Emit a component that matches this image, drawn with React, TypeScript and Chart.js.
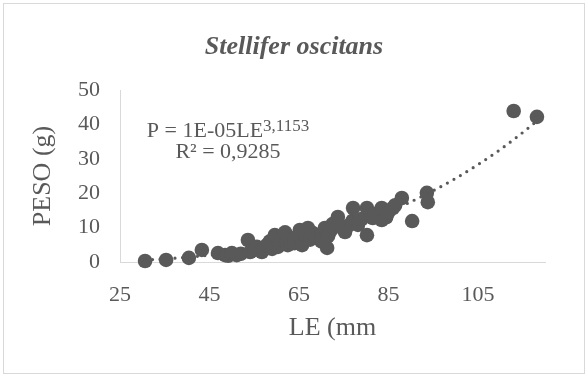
import React, { useEffect, useRef } from "react";
import { Chart, registerables } from "chart.js";

Chart.register(...registerables);

const SERIF = "'Liberation Serif', 'Times New Roman', serif";
const TEXT_COLOR = "#595959";
const MARK_COLOR = "#595959";
const AXIS_COLOR = "#d9d9d9";

const TITLE = "Stellifer oscitans";
const X_TITLE = "LE (mm";
const Y_TITLE = "PESO (g)";
const EQ_MAIN = "P = 1E-05LE";
const EQ_EXP = "3,1153";
const EQ_R2 = "R² = 0,9285";

const X_TICKS = [25, 45, 65, 85, 105];
const Y_TICKS = [0, 10, 20, 30, 40, 50];

// LE (mm) and PESO (g) of the sampled fish
const LE_MM = [
  30.6, 35.3, 40.4, 43.3, 46.9, 48.5, 49.2, 50.0, 51.1, 52.0,
  53.6, 54.1, 55.0, 55.6, 56.7, 57.0, 57.8, 58.5, 59.0, 59.6,
  60.3, 61.0, 61.9, 62.0, 62.5, 63.0, 64.0, 64.1, 65.2, 65.6,
  65.7, 66.5, 67.0, 67.5, 68.0, 69.0, 70.0, 70.0, 70.8, 71.3,
  71.5, 72.0, 72.5, 73.7, 74.5, 75.3, 76.0, 77.0, 77.1, 78.2,
  79.0, 80.2, 80.2, 81.5, 82.0, 83.5, 83.5, 84.5, 85.0, 86.0,
  86.5, 88.0, 90.3, 93.6, 93.8, 113.0, 118.2,
];
const PESO_G = [
  0.3, 0.6, 1.2, 3.5, 2.6, 2.0, 1.8, 2.6, 2.0, 2.4,
  6.4, 2.9, 3.5, 4.4, 2.9, 4.0, 4.9, 6.0, 3.8, 7.8,
  4.4, 6.5, 8.6, 5.5, 4.9, 6.0, 5.5, 7.0, 9.3, 7.0,
  4.9, 8.0, 9.9, 6.5, 8.5, 7.0, 8.0, 6.0, 9.9, 4.1,
  7.5, 9.0, 11.0, 13.1, 10.0, 8.7, 10.5, 12.0, 15.7, 10.8,
  12.5, 15.7, 7.8, 12.8, 14.0, 15.7, 12.2, 13.0, 14.5, 15.7,
  16.5, 18.6, 11.9, 20.1, 17.4, 43.9, 42.2,
];

// Power trendline
const TREND_LE = [30.6, 35, 40, 45, 50, 55, 60, 65, 70, 75, 80, 85, 90, 95, 100, 105, 110, 114, 118.2];
const TREND_PESO = [0.6, 0.9, 1.4, 2.0, 2.8, 3.8, 5.0, 6.4, 8.0, 9.9, 12.1, 14.6, 17.5, 20.7, 24.3, 28.3, 32.7, 36.6, 41.0];

const decorPlugin = {
  id: "decor",
  afterDraw(chart: any) {
    const ctx = chart.ctx as CanvasRenderingContext2D;
    ctx.save();
    // outer chart border
    ctx.strokeStyle = AXIS_COLOR;
    ctx.lineWidth = 1;
    ctx.strokeRect(3.5, 3.5, 581, 370);
    // title
    ctx.fillStyle = TEXT_COLOR;
    ctx.font = `italic bold 26px ${SERIF}`;
    ctx.textAlign = "center";
    ctx.textBaseline = "alphabetic";
    ctx.fillText(TITLE, 294, 54);
    // trendline equation
    const cx = 228;
    ctx.font = `22px ${SERIF}`;
    const w1 = ctx.measureText(EQ_MAIN).width;
    ctx.font = `17px ${SERIF}`;
    const w2 = ctx.measureText(EQ_EXP).width;
    const start = cx - (w1 + w2) / 2;
    ctx.textAlign = "left";
    ctx.font = `22px ${SERIF}`;
    ctx.fillText(EQ_MAIN, start, 137);
    ctx.font = `17px ${SERIF}`;
    ctx.fillText(EQ_EXP, start + w1, 131);
    ctx.textAlign = "center";
    ctx.font = `22px ${SERIF}`;
    ctx.fillText(EQ_R2, cx, 158);
    ctx.restore();
  },
};

export default function App() {
  const canvasRef = useRef<HTMLCanvasElement | null>(null);

  useEffect(() => {
    document.body.style.margin = "0";
    const canvas = canvasRef.current;
    if (!canvas) return;
    const points = LE_MM.map((x, i) => ({ x, y: PESO_G[i] }));
    const trend = TREND_LE.map((x, i) => ({ x, y: TREND_PESO[i] }));
    const chart = new Chart(canvas, {
      type: "scatter",
      data: {
        datasets: [
          {
            type: "line",
            data: trend,
            borderColor: MARK_COLOR,
            borderWidth: 3.2,
            borderDash: [0, 7.5],
            borderCapStyle: "round",
            pointRadius: 0,
            cubicInterpolationMode: "monotone",
            fill: false,
            clip: false,
          } as any,
          {
            data: points,
            backgroundColor: MARK_COLOR,
            borderColor: MARK_COLOR,
            borderWidth: 0,
            pointRadius: 7.3,
            pointHoverRadius: 7.3,
            clip: false,
          } as any,
        ],
      },
      options: {
        animation: false,
        responsive: false,
        maintainAspectRatio: false,
        layout: { padding: { top: 90, right: 43, left: 0, bottom: 0 } },
        plugins: {
          legend: { display: false },
          tooltip: { enabled: false },
          title: { display: false },
        },
        scales: {
          x: {
            type: "linear",
            min: 25,
            max: 120,
            afterBuildTicks: (s: any) => {
              s.ticks = X_TICKS.map((v) => ({ value: v }));
            },
            afterFit: (s: any) => {
              s.height = 115;
            },
            grid: { display: false, drawTicks: false },
            border: { display: true, color: AXIS_COLOR, width: 1 },
            ticks: {
              color: TEXT_COLOR,
              font: { family: SERIF, size: 22 },
              padding: 20,
              maxRotation: 0,
              autoSkip: false,
            },
            title: {
              display: true,
              text: X_TITLE,
              color: TEXT_COLOR,
              font: { family: SERIF, size: 26 },
              padding: { top: 0, bottom: 33 },
            },
          },
          y: {
            type: "linear",
            min: 0,
            max: 50,
            afterBuildTicks: (s: any) => {
              s.ticks = Y_TICKS.map((v) => ({ value: v }));
            },
            afterFit: (s: any) => {
              s.width = 120;
            },
            grid: { display: false, drawTicks: false },
            border: { display: true, color: AXIS_COLOR, width: 1 },
            ticks: {
              color: TEXT_COLOR,
              font: { family: SERIF, size: 22 },
              padding: 20,
            },
            title: {
              display: true,
              text: Y_TITLE,
              color: TEXT_COLOR,
              font: { family: SERIF, size: 26 },
              padding: { top: 28, bottom: 0 },
            },
          },
        },
      },
      plugins: [decorPlugin],
    });
    return () => chart.destroy();
  }, []);

  return (
    <div style={{ width: 588, height: 377, position: "relative" }}>
      <canvas ref={canvasRef} width={588} height={377} style={{ display: "block", width: 588, height: 377 }} />
    </div>
  );
}
